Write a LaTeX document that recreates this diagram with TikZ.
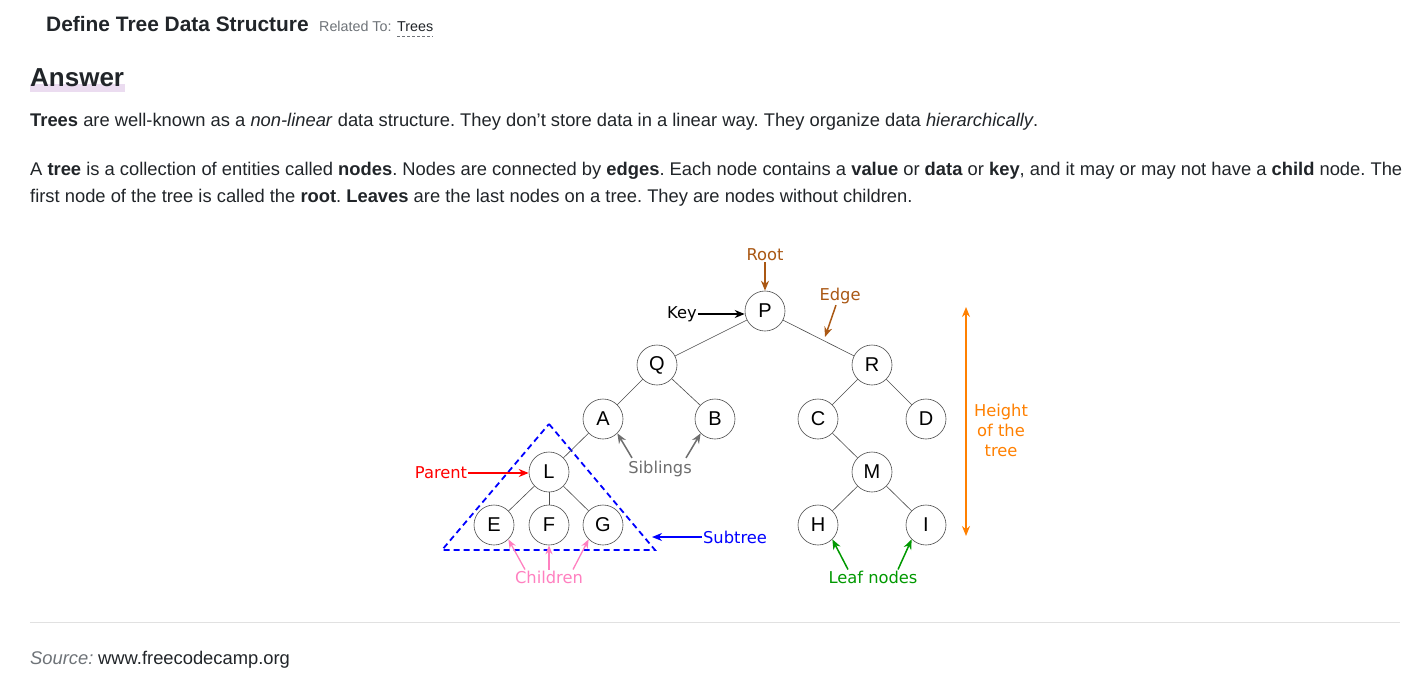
\documentclass[tikz,border=0pt]{standalone}
\usepackage{fontspec}
\setmainfont{Liberation Sans}
\newfontfamily\diafont{DejaVu Sans}
\usetikzlibrary{arrows.meta}
\definecolor{txt}{RGB}{33,37,41}
\definecolor{graytxt}{RGB}{110,115,120}
\definecolor{brownc}{RGB}{170,88,20}
\definecolor{orangec}{RGB}{255,128,0}
\definecolor{sibc}{RGB}{110,110,110}
\definecolor{parc}{RGB}{255,0,0}
\definecolor{subc}{RGB}{0,0,255}
\definecolor{pinkc}{RGB}{255,128,192}
\definecolor{leafc}{RGB}{0,153,0}
\definecolor{hl}{RGB}{235,220,240}
\definecolor{rulec}{RGB}{225,225,225}
\tikzset{
  tnode/.style={circle,draw=black!70,line width=0.6pt,minimum size=40pt,inner sep=0pt,font=\fontsize{20}{20}\selectfont,fill=white},
  tedge/.style={draw=black!70,line width=0.6pt},
  lbl/.style={font=\diafont\fontsize{16.3}{16}\selectfont,inner sep=1pt},
  arr/.style={line width=1.5pt,-{Stealth[length=10pt,width=8pt]}},
  arrthin/.style={line width=1.3pt,-{Stealth[length=9pt,width=7pt]}},
  para/.style={anchor=base west,inner sep=0pt,font=\fontsize{18.35}{22}\selectfont,text=txt}
}
\begin{document}
\frenchspacing
\begin{tikzpicture}[x=1pt,y=-1pt]
\useasboundingbox[fill=white] (0,0) rectangle (1426,696);
% header
\node[anchor=base west,inner sep=0pt,font=\bfseries\fontsize{20.9}{24}\selectfont,text=txt] (title) at (46,31) {Define Tree Data Structure};
\node[anchor=base west,inner sep=0pt,font=\fontsize{14.3}{16}\selectfont,text=graytxt] (rel) at (319,31) {Related To:};
\node[anchor=base west,inner sep=0pt,font=\fontsize{14.3}{16}\selectfont,text=txt] (trees) at (397,31) {Trees};
\draw[densely dashed,graytxt,line width=0.8pt] ([yshift=-5pt]trees.base west) -- ([yshift=-5pt]trees.base east);
\fill[hl] (30,84) rectangle (125,92);
\node[anchor=base west,inner sep=0pt,font=\bfseries\fontsize{26}{30}\selectfont,text=txt] (ans) at (30,86) {Answer};
\node[para] (p1) at (30,126) {\textbf{Trees} are well-known as a \textit{non-linear} data structure. They don’t store data in a linear way. They organize data \textit{hierarchically}.};
\node[para] (p2) at (30,175) {A \textbf{tree} is a collection of entities called \textbf{nodes}. Nodes are connected by \textbf{edges}. Each node contains a \textbf{value} or \textbf{data} or \textbf{key}, and it may or may not have a \textbf{child} node. The};
\node[para] (p3) at (30,202) {first node of the tree is called the \textbf{root}. \textbf{Leaves} are the last nodes on a tree. They are nodes without children.};
% footer
\draw[rulec,line width=1pt] (30,622) -- (1400,622);
\node[anchor=base west,inner sep=0pt,font=\itshape\fontsize{18.35}{22}\selectfont,text=graytxt] (src) at (30,664) {Source:};
\node[anchor=base west,inner sep=0pt,font=\fontsize{18.35}{22}\selectfont,text=txt] (url) at (98,664) {www.freecodecamp.org};
% subtree triangle
\coordinate (t1) at (549,424);
\coordinate (t2) at (442,550);
\coordinate (t3) at (655,550);
\draw[subc,dash pattern=on 6pt off 4pt,line width=1.8pt] (t1) -- (t3) -- (t2) -- cycle;
% tree nodes
\node[tnode] (P) at (765,311) {P};
\node[tnode] (Q) at (657,365) {Q};
\node[tnode] (R) at (872,365) {R};
\node[tnode] (A) at (603,419) {A};
\node[tnode] (B) at (715,419) {B};
\node[tnode] (C) at (818,419) {C};
\node[tnode] (D) at (926,419) {D};
\node[tnode] (L) at (549,472) {L};
\node[tnode] (M) at (872,472) {M};
\node[tnode] (E) at (494,525) {E};
\node[tnode] (F) at (549,525) {F};
\node[tnode] (G) at (603,525) {G};
\node[tnode] (H) at (818,525) {H};
\node[tnode] (I) at (926,525) {I};
\foreach \a/\b in {P/Q,P/R,Q/A,Q/B,R/C,R/D,A/L,C/M,L/E,L/F,L/G,M/H,M/I}
  \draw[tedge] (\a) -- (\b);
% labels
\node[lbl,text=brownc] (root) at (765,255) {Root};
\draw[arr,brownc] (root.south) -- (P.north);
\node[lbl,text=brownc] (edgel) at (840,296) {Edge};
\coordinate (edgept) at (825,337);
\draw[arr,brownc] ([xshift=-4pt]edgel.south) -- (edgept);
\node[lbl,text=black] (key) at (682,314) {Key};
\draw[arr,black] (key.east) -- (key.east -| P.west);
\node[lbl,text=orangec,align=center,font=\diafont\fontsize{16.3}{20}\selectfont] (height) at (1001,430) {Height\\of the\\tree};
\coordinate (htop) at (966,307);
\coordinate (hbot) at (966,536);
\draw[line width=1.5pt,orangec,{Stealth[length=10pt,width=8pt]}-{Stealth[length=10pt,width=8pt]}] (htop) -- (hbot);
\node[lbl,text=sibc] (sib) at (660,469) {Siblings};
\draw[arr,sibc] ([xshift=-28pt,yshift=2pt]sib.north) -- (A.south east);
\draw[arr,sibc] ([xshift=26pt,yshift=2pt]sib.north) -- (B.south west);
\node[lbl,text=parc] (par) at (441,473) {Parent};
\draw[arr,parc] (par.east) -- (par.east -| L.west);
\node[lbl,text=subc] (sub) at (735,537) {Subtree};
\draw[arr,subc] (sub.west) -- (652,537);
\node[lbl,text=pinkc] (chil) at (549,577) {Children};
\draw[arrthin,pinkc] ([xshift=-24pt]chil.north) -- (E.south east);
\draw[arrthin,pinkc] (chil.north) -- (F.south);
\draw[arrthin,pinkc] ([xshift=24pt]chil.north) -- (G.south west);
\node[lbl,text=leafc] (leaf) at (873,577) {Leaf nodes};
\draw[arr,leafc] ([xshift=-25pt]leaf.north) -- (H.south east);
\draw[arr,leafc] ([xshift=25pt]leaf.north) -- (I.south west);
\end{tikzpicture}
\end{document}
